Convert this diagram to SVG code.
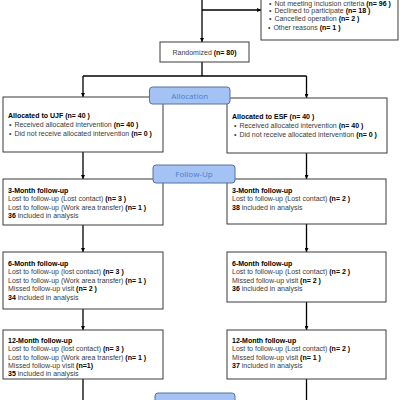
<svg xmlns="http://www.w3.org/2000/svg" width="400" height="400" viewBox="0 0 400 400">
<defs>
<marker id="ah" viewBox="0 0 10 10" refX="10" refY="5" markerWidth="4" markerHeight="4" orient="auto" markerUnits="userSpaceOnUse">
<path d="M0,0 L10,5 L0,10 z" fill="#000"/>
</marker>
<style>
.box{fill:#fff;stroke:#3a3a3a;stroke-width:1}
.lab{fill:#a4c2f4;stroke:#56739e;stroke-width:1}
.labt{font-family:"Open Sans","Liberation Sans",sans-serif;font-size:8px;fill:#4a7fd0;text-anchor:middle}
.t{font-family:"Liberation Sans",Arial,sans-serif;font-size:7px;fill:#3a3a3a}
.b{font-weight:bold;fill:#000}
.c{text-anchor:middle}
.ln{stroke:#000;stroke-width:1.3;fill:none}
</style>
</defs>
<rect width="400" height="400" fill="#fff"/>
<g id="connectors">
<line class="ln" x1="202" y1="0" x2="202" y2="42" marker-end="url(#ah)"/>
<line class="ln" x1="202" y1="10" x2="261" y2="10" marker-end="url(#ah)"/>
<line class="ln" x1="202" y1="62" x2="202" y2="76"/>
<line class="ln" x1="83" y1="76" x2="306.5" y2="76"/>
<line class="ln" x1="83" y1="76" x2="83" y2="97" marker-end="url(#ah)"/>
<line class="ln" x1="306.5" y1="76" x2="306.5" y2="98" marker-end="url(#ah)"/>
<line class="ln" x1="83" y1="152" x2="83" y2="179" marker-end="url(#ah)"/>
<line class="ln" x1="306.5" y1="153" x2="306.5" y2="179" marker-end="url(#ah)"/>
<line class="ln" x1="83" y1="225" x2="83" y2="252" marker-end="url(#ah)"/>
<line class="ln" x1="306.5" y1="224" x2="306.5" y2="252" marker-end="url(#ah)"/>
<line class="ln" x1="83" y1="309" x2="83" y2="330" marker-end="url(#ah)"/>
<line class="ln" x1="306.5" y1="302" x2="306.5" y2="330" marker-end="url(#ah)"/>
<line class="ln" x1="83" y1="379" x2="83" y2="400"/>
<line class="ln" x1="306.5" y1="379" x2="306.5" y2="400"/>
</g>
<g id="excluded">
<rect class="box" x="261" y="-12" width="137" height="52"/>
<text class="t" x="269" y="5.8">• <tspan dx="1">Not meeting inclusion criteria </tspan><tspan class="b">(n= 96 )</tspan></text>
<text class="t" x="269" y="13.2">• <tspan dx="1">Declined to participate </tspan><tspan class="b">(n= 18 )</tspan></text>
<text class="t" x="269" y="21.3">• <tspan dx="1">Cancelled operation </tspan><tspan class="b">(n= 2 )</tspan></text>
<text class="t" x="268" y="29.5">• <tspan dx="1">Other reasons </tspan><tspan class="b">(n= 1 )</tspan></text>
</g>
<g id="randomized">
<rect class="box" x="160" y="42" width="89" height="20"/>
<text class="t c" x="204.5" y="54.5">Randomized <tspan class="b">(n= 80)</tspan></text>
</g>
<g id="alloc-ujf">
<rect class="box" x="3" y="97" width="160" height="55"/>
<text class="t" x="8" y="117.5"><tspan class="b">Allocated to UJF (n= 40 )</tspan></text>
<text class="t" x="9" y="126.5">• <tspan dx="1">Received allocated intervention </tspan><tspan class="b">(n= 40 )</tspan></text>
<text class="t" x="9" y="135.5">• <tspan dx="1">Did not receive allocated intervention </tspan><tspan class="b">(n= 0 )</tspan></text>
</g>
<g id="alloc-esf">
<rect class="box" x="227" y="98" width="160" height="55"/>
<text class="t" x="232" y="118.5"><tspan class="b">Allocated to ESF (n= 40 )</tspan></text>
<text class="t" x="234" y="127.5">• <tspan dx="1">Received allocated intervention </tspan><tspan class="b">(n= 40 )</tspan></text>
<text class="t" x="234" y="136.5">• <tspan dx="1">Did not receive allocated intervention </tspan><tspan class="b">(n= 0 )</tspan></text>
</g>
<g id="label-allocation">
<rect class="lab" x="149.5" y="87" width="80.5" height="17" rx="3"/>
<text class="labt" x="189.75" y="98.5">Allocation</text>
</g>
<g id="fu3-ujf">
<rect class="box" x="3" y="179" width="160" height="46"/>
<text class="t" x="8" y="192.5"><tspan class="b">3-Month follow-up</tspan></text>
<text class="t" x="8" y="201">Lost to follow-up (Lost contact) <tspan class="b">(n= 3 )</tspan></text>
<text class="t" x="8" y="209.5">Lost to follow-up (Work area transfer) <tspan class="b">(n= 1 )</tspan></text>
<text class="t" x="8" y="218"><tspan class="b">36</tspan> included in analysis</text>
</g>
<g id="fu3-esf">
<rect class="box" x="227" y="179" width="159" height="45"/>
<text class="t" x="232" y="192.5"><tspan class="b">3-Month follow-up</tspan></text>
<text class="t" x="232" y="201">Lost to follow-up (Lost contact) <tspan class="b">(n= 2 )</tspan></text>
<text class="t" x="232" y="209.5"><tspan class="b">38</tspan> included in analysis</text>
</g>
<g id="label-followup">
<rect class="lab" x="153" y="165" width="82" height="18" rx="3"/>
<text class="labt" x="194" y="177">Follow-Up</text>
</g>
<g id="fu6-ujf">
<rect class="box" x="3" y="252" width="160" height="57"/>
<text class="t" x="8" y="265.5"><tspan class="b">6-Month follow-up</tspan></text>
<text class="t" x="8" y="274">Lost to follow-up (lost contact) <tspan class="b">(n= 3 )</tspan></text>
<text class="t" x="8" y="282.5">Lost to follow-up (Work area transfer) <tspan class="b">(n= 1 )</tspan></text>
<text class="t" x="8" y="291">Missed follow-up visit <tspan class="b">(n= 2 )</tspan></text>
<text class="t" x="8" y="299.5"><tspan class="b">34</tspan> included in analysis</text>
</g>
<g id="fu6-esf">
<rect class="box" x="227" y="252" width="159" height="50"/>
<text class="t" x="232" y="265.5"><tspan class="b">6-Month follow-up</tspan></text>
<text class="t" x="232" y="274">Lost to follow-up (Lost contact) <tspan class="b">(n= 2 )</tspan></text>
<text class="t" x="232" y="282.5">Missed follow-up visit <tspan class="b">(n= 2 )</tspan></text>
<text class="t" x="232" y="291"><tspan class="b">36</tspan> included in analysis</text>
</g>
<g id="fu12-ujf">
<rect class="box" x="3" y="330" width="160" height="49"/>
<text class="t" x="8" y="343"><tspan class="b">12-Month follow-up</tspan></text>
<text class="t" x="8" y="351.3">Lost to follow-up (lost contact) <tspan class="b">(n= 3 )</tspan></text>
<text class="t" x="8" y="359.6">Lost to follow-up (Work area transfer) <tspan class="b">(n= 1 )</tspan></text>
<text class="t" x="8" y="367.9">Missed follow-up visit <tspan class="b">(n=1)</tspan></text>
<text class="t" x="8" y="376.2"><tspan class="b">35</tspan> included in analysis</text>
</g>
<g id="fu12-esf">
<rect class="box" x="227" y="330" width="159" height="49"/>
<text class="t" x="232" y="343"><tspan class="b">12-Month follow-up</tspan></text>
<text class="t" x="232" y="351.3">Lost to follow-up (Lost contact) <tspan class="b">(n= 2 )</tspan></text>
<text class="t" x="232" y="359.6">Missed follow-up visit <tspan class="b">(n= 1 )</tspan></text>
<text class="t" x="232" y="367.9"><tspan class="b">37</tspan> included in analysis</text>
</g>
<g id="label-analysis">
<rect class="lab" x="155" y="393" width="80" height="18" rx="3"/>
</g>
</svg>
